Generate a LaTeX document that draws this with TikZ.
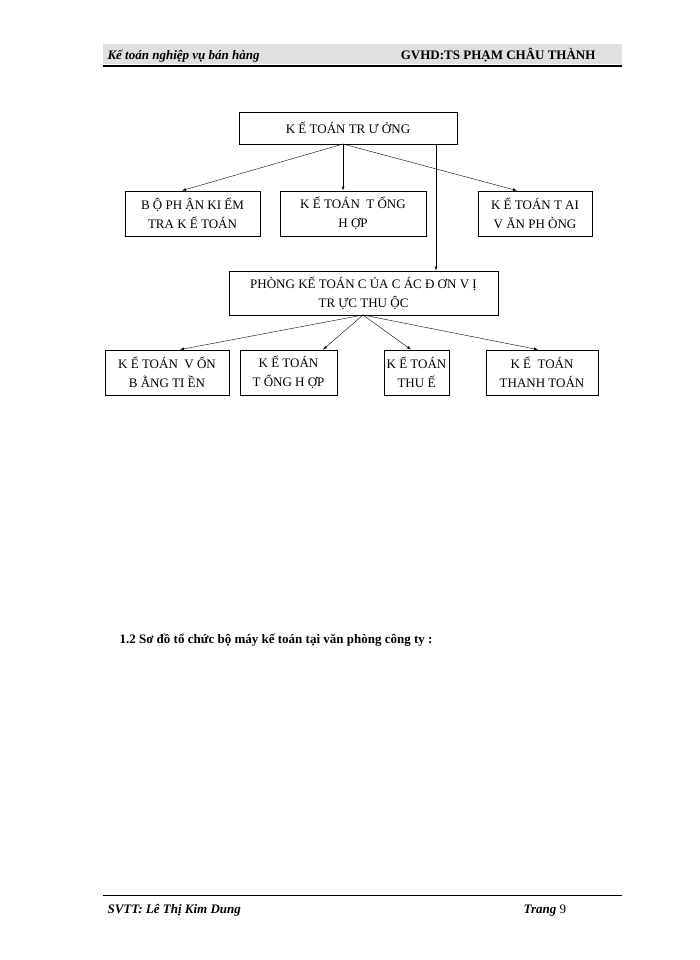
\documentclass[tikz,border=0pt]{standalone}
\usepackage{fontspec}
\setmainfont{Liberation Serif}
\begin{document}
\begin{tikzpicture}[x=1pt,y=-1pt,
 bx/.style={draw,thick,fill=white,align=center,font=\fontsize{13}{19}\selectfont,inner sep=0pt},
 ar/.style={-latex,thin}]
\useasboundingbox (0,0) rectangle (700,960);
\fill[black!12] (103,44) rectangle (622,64);
\draw[line width=1.2pt] (103,66) -- (622,66);
\node[anchor=base west,font=\bfseries\itshape\fontsize{13}{15}\selectfont] (h1) at (104,60) {Kế toán nghiệp vụ bán hàng};
\node[anchor=base east,font=\bfseries\fontsize{13}{15}\selectfont] (h2) at (599,60) {GVHD:TS PHẠM CHÂU THÀNH};
\node[bx,minimum width=218,minimum height=32] (t) at (348,128) {K Ế TOÁN TR Ư ỞNG};
\node[bx,minimum width=135,minimum height=45] (b1) at (192.5,213.5) {B Ộ PH ẬN KI ỂM\\TRA K Ế TOÁN};
\node[bx,minimum width=146,minimum height=45] (b2) at (353,213.5) {K Ế TOÁN \ T ỔNG\\H ỢP};
\node[bx,minimum width=114,minimum height=45] (b3) at (535,213.5) {K Ế TOÁN T AI\\V ĂN PH ÒNG};
\node[bx,minimum width=269,minimum height=44] (p) at (363.5,293) {PHÒNG KẾ TOÁN C ỦA C ÁC Đ ƠN V Ị\\TR ỰC THU ỘC};
\node[bx,minimum width=124,minimum height=45] (c1) at (167,372.5) {K Ế TOÁN \ V ỐN\\B ẰNG TI ỀN};
\node[bx,minimum width=97,minimum height=45] (c2) at (288.5,372.5) {K Ế TOÁN\\T ỔNG H ỢP};
\node[bx,minimum width=65,minimum height=45] (c3) at (416.5,372.5) {K Ế TOÁN\\THU Ế};
\node[bx,minimum width=112,minimum height=45] (c4) at (542,372.5) {K Ế \ TOÁN\\THANH TOÁN};
\coordinate (ts) at (343,144);
\draw[ar] (ts) -- (b1.north -| 182,0);
\draw[ar] (ts) -- (b2.north -| 343,0);
\draw[ar] (ts) -- (b3.north -| 517,0);
\draw[ar] (t.south -| 436,0) -- (p.north -| 436,0);
\coordinate (ps) at (363,315);
\draw[ar] (ps) -- (c1.north -| 180,0);
\draw[ar] (ps) -- (c2.north -| 323,0);
\draw[ar] (ps) -- (c3.north -| 411,0);
\draw[ar] (ps) -- (c4.north -| 538,0);
\node[anchor=base west,font=\bfseries\fontsize{13}{15}\selectfont] (s) at (116,643) {1.2 Sơ đồ tổ chức bộ máy kế toán tại văn phòng công ty :};
\draw[thin] (103,895) -- (622,895);
\node[anchor=base west,font=\bfseries\itshape\fontsize{13}{15}\selectfont] (f1) at (104,913) {SVTT: Lê Thị Kim Dung};
\node[anchor=base west,font=\bfseries\itshape\fontsize{13}{15}\selectfont] (f2) at (520,913) {Trang \upshape\mdseries 9};
\end{tikzpicture}
\end{document}
